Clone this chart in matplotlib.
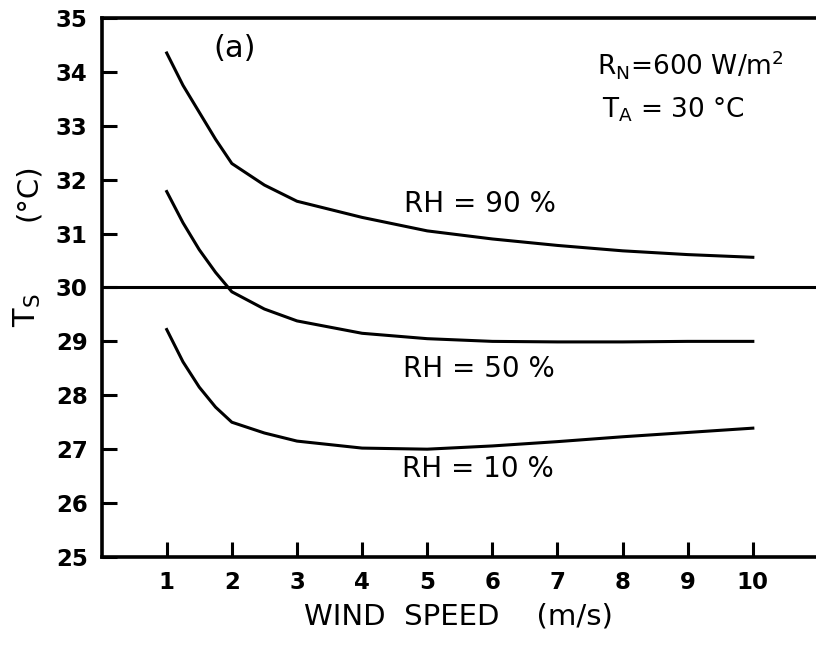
import numpy as np
import matplotlib.pyplot as plt

# surface temperature vs wind speed for three humidity levels
wind = [1, 1.25, 1.5, 1.75, 2, 2.5, 3, 4, 5, 6, 7, 8, 9, 10]
rh90 = [34.35, 33.75, 33.25, 32.75, 32.3, 31.9, 31.6, 31.3, 31.05, 30.9, 30.78, 30.68, 30.61, 30.56]
rh50 = [31.78, 31.2, 30.7, 30.28, 29.92, 29.6, 29.38, 29.15, 29.05, 29.0, 28.99, 28.99, 29.0, 29.0]
rh10 = [29.22, 28.62, 28.15, 27.78, 27.5, 27.3, 27.15, 27.02, 27.0, 27.06, 27.14, 27.23, 27.31, 27.39]
air_temp = 30
xticks = [1, 2, 3, 4, 5, 6, 7, 8, 9, 10]
yticks = [25, 26, 27, 28, 29, 30, 31, 32, 33, 34, 35]

plt.rcParams['font.family'] = 'DejaVu Sans'

fig = plt.figure(figsize=(8.16, 6.49), dpi=100)
ax = fig.add_axes([0.1245, 0.1418, 0.8755, 0.8305])

lw = 2.2
ax.plot(wind, rh90, color='black', lw=lw)
ax.plot(wind, rh50, color='black', lw=lw)
ax.plot(wind, rh10, color='black', lw=lw)
ax.axhline(air_temp, color='black', lw=lw)

ax.set_xlim(0, 10.97)
ax.set_ylim(25, 35)
ax.set_xticks(xticks)
ax.set_yticks(yticks)
ax.tick_params(direction='in', length=11, width=2.2, labelsize=16.5, pad=10)
for lab in ax.get_xticklabels() + ax.get_yticklabels():
    lab.set_fontweight('bold')

ax.spines['right'].set_visible(False)
for s in ['left', 'bottom', 'top']:
    ax.spines[s].set_linewidth(2.6)

ax.set_xlabel('WIND  SPEED    (m/s)', fontsize=21, labelpad=6)
fig.text(0.034, 1 - 310 / 649, 'T$_\\mathregular{S}$', rotation=90, fontsize=22,
         ha='center', va='center')
fig.text(0.034, 1 - 192 / 649, '(°C)', rotation=90, fontsize=21,
         ha='center', va='center')

ax.text(2.05, 34.44, '(a)', fontsize=22, ha='center', va='center')
ax.text(7.61, 34.13, 'R$_\\mathregular{N}$=600 W/m$^\\mathregular{2}$', fontsize=19, va='center')
ax.text(7.69, 33.3, 'T$_\\mathregular{A}$ = 30 °C', fontsize=19, va='center')
ax.text(4.65, 31.54, 'RH = 90 %', fontsize=20, va='center')
ax.text(4.63, 28.48, 'RH = 50 %', fontsize=20, va='center')
ax.text(4.61, 26.63, 'RH = 10 %', fontsize=20, va='center')

fig.savefig('out.png', dpi=100)
